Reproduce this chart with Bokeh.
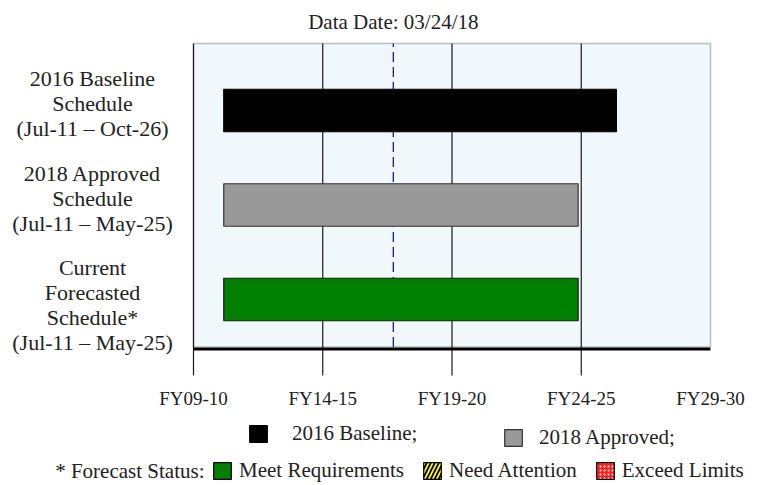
import numpy as np
from bokeh.plotting import figure
from bokeh.models import (ColumnDataSource, Range1d, Label, Legend, LegendItem,
                          BoxAnnotation)
from bokeh.embed import file_html
from bokeh.resources import INLINE

# ---------------- data ----------------
categories = ["2016 Baseline", "2018 Approved", "Current Forecasted"]
row_labels = ["2016 Baseline\nSchedule\n(Jul-11 \u2013 Oct-26)",
              "2018 Approved\nSchedule\n(Jul-11 \u2013 May-25)",
              "Current\nForecasted\nSchedule*\n(Jul-11 \u2013 May-25)"]
legend_labels = ["2016 Baseline;", "2018 Approved;"]
start_year = [2011.67, 2011.67, 2011.67]
end_year = [2026.86, 2025.38, 2025.38]
bar_colors = ["#000000", "#999999", "#008000"]
bar_lines = ["#000000", "#333333", "#1a1a1a"]

data_date = 2018.23
data_date_text = "Data Date: 03/24/18"

tick_years = [2010.5, 2015.5, 2020.5, 2025.5, 2030.5]
tick_labels = ["FY09-10", "FY14-15", "FY19-20", "FY24-25", "FY29-30"]

status_title = "* Forecast Status:"
status_labels = ["Meet Requirements", "Need Attention", "Exceed Limits"]
status_fill = ["#008000", "#ffff00", "#ff2020"]
status_hatch = [" ", "/", "dot"]
status_hatch_color = ["black", "black", "white"]
status_hatch_scale = [8, 8, 4]
status_hatch_weight = [1, 1.8, 2.2]

# ---------------- layout (pixel geometry of the page) ----------------
W, H = 765, 485
PX_YEAR = 25.85          # pixels per year
PX_ROW = 94.5            # pixels per schedule row
BOX_L, BOX_R, BOX_T, BOX_B = 193, 710, 43, 346.5
ROW0_PY = 299            # page y of the lowest row centre
TICK_PY = 375            # bottom of tick marks
TICKLBL_PY = 398
TITLE_PY = 21
LABEL_PX = 92
BAR_H = 0.45

def ydat(py):
    return (ROW0_PY - py) / PX_ROW

x_start = tick_years[0] - BOX_L / PX_YEAR
x_end = tick_years[-1] + (W - BOX_R) / PX_YEAR
box_top, box_bottom = ydat(BOX_T), ydat(BOX_B)

FONT = "Liberation Serif"
TXT = "#222222"
n = len(categories)
ys = [n - 1 - i for i in range(n)]

p = figure(width=W, height=H, output_backend="svg", toolbar_location=None,
           x_range=Range1d(x_start, x_end), y_range=Range1d(ydat(H), ydat(0)),
           min_border=0)
p.min_border_left = p.min_border_right = p.min_border_top = p.min_border_bottom = 0
p.xaxis.visible = False
p.yaxis.visible = False
p.grid.visible = False
p.outline_line_color = None
p.background_fill_color = "white"

# plot area
p.add_layout(BoxAnnotation(left=tick_years[0], right=tick_years[-1], bottom=box_bottom,
                           top=box_top, fill_color="#f0f8fb", fill_alpha=1,
                           line_color="#333333", line_width=1.5, level="underlay"))

# grid lines + tick marks
gx = tick_years[:-1]
p.segment(x0=gx, y0=[ydat(TICK_PY)] * len(gx), x1=gx, y1=[box_top] * len(gx),
          line_color="#1a1a1a", line_width=1.2)

# data-date line
p.segment(x0=[data_date], y0=[box_bottom], x1=[data_date], y1=[box_top],
          line_color="#1c1c8c", line_dash="10 5", line_width=1.3)

# bars
src = ColumnDataSource(dict(y=ys, left=start_year, right=end_year,
                            fill=bar_colors, line=bar_lines))
bars = p.hbar(y="y", left="left", right="right", height=BAR_H,
              fill_color="fill", line_color="line", line_width=1.2, source=src)

# thick bottom axis line
p.segment(x0=[tick_years[0]], y0=[ydat(BOX_B + 2)], x1=[tick_years[-1]],
          y1=[ydat(BOX_B + 2)], line_color="black", line_width=3)

# tick labels
for t, lbl in zip(tick_years, tick_labels):
    p.add_layout(Label(x=t, y=ydat(TICKLBL_PY), text=lbl, text_align="center",
                       text_baseline="middle", text_font=FONT,
                       text_font_size="19px", text_color=TXT))

# status dummy renderer for legend
nan = np.full(len(status_labels), np.nan)
ssrc = ColumnDataSource(dict(y=nan, left=nan, right=nan, fill=status_fill,
                             hatch=status_hatch, hcolor=status_hatch_color,
                             hscale=status_hatch_scale, hweight=status_hatch_weight))
status_r = p.hbar(y="y", left="left", right="right", height=BAR_H,
                  fill_color="fill", line_color="black", line_width=1.2,
                  hatch_pattern="hatch", hatch_color="hcolor",
                  hatch_scale="hscale", hatch_weight="hweight", source=ssrc)

# row labels
label_x = tick_years[0] - (BOX_L - LABEL_PX) / PX_YEAR
for yv, txt in zip(ys, row_labels):
    p.add_layout(Label(x=label_x, y=yv + BAR_H / 2 + 23 / PX_ROW,
                       text=txt, text_align="center", text_baseline="top",
                       text_font=FONT, text_font_size="22px", text_line_height=1.0,
                       text_color=TXT))

# data date title
p.add_layout(Label(x=data_date, y=ydat(TITLE_PY), text=data_date_text,
                   text_align="center", text_baseline="middle", text_font=FONT,
                   text_font_size="21px", text_color=TXT))

common = dict(orientation="horizontal", glyph_width=22, glyph_height=21, padding=0,
              margin=0, border_line_color=None, background_fill_alpha=0,
              label_text_font=FONT, label_text_font_size="21px",
              label_text_color=TXT)

leg1a = Legend(items=[LegendItem(label=legend_labels[0], renderers=[bars], index=0)],
               location=(247, 39), label_standoff=23, **common)
p.add_layout(leg1a)
leg1b = Legend(items=[LegendItem(label=legend_labels[1], renderers=[bars], index=1)],
               location=(502, 35), label_standoff=15, **common)
p.add_layout(leg1b)

leg2 = Legend(items=[LegendItem(label=status_labels[i], renderers=[status_r], index=i)
                     for i in range(len(status_labels))],
              location=(211, 2), label_standoff=6, spacing=17, **common)
p.add_layout(leg2)

p.add_layout(Label(x=tick_years[0] + 11 / PX_YEAR, y=ydat(470), text=status_title,
                   text_align="right", text_baseline="middle", text_font=FONT,
                   text_font_size="21px", text_color=TXT))

open("out.html", "w").write(file_html(p, INLINE))
